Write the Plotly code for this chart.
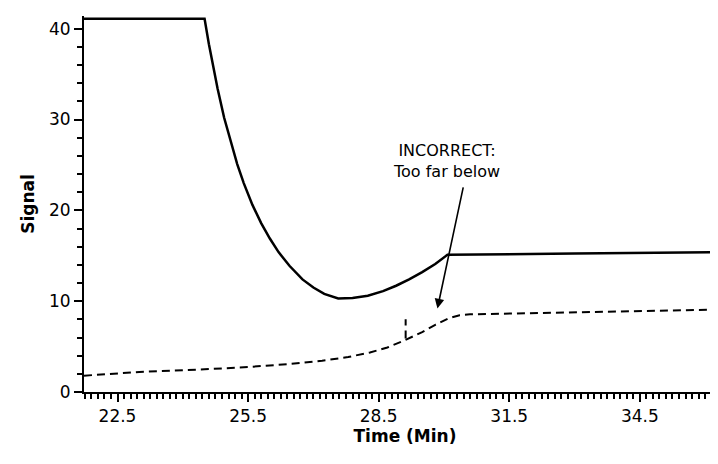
import plotly.graph_objects as go

solid_x = [21.73, 24.5, 24.6, 24.7, 24.8, 24.95, 25.1, 25.25, 25.4, 25.6, 25.8, 26.0, 26.2, 26.45, 26.75, 27.0, 27.25, 27.57, 27.9, 28.25, 28.6, 28.9, 29.2, 29.5, 29.8, 30.08, 33.0, 36.48]
solid_y = [41.1, 41.1, 38.3, 35.8, 33.4, 30.2, 27.5, 25.1, 23.0, 20.6, 18.6, 16.9, 15.4, 13.9, 12.4, 11.5, 10.8, 10.3, 10.35, 10.6, 11.1, 11.7, 12.4, 13.2, 14.1, 15.1, 15.25, 15.4]
dash_x = [21.73, 23.0, 24.5, 25.5, 26.5, 27.2, 27.8, 28.3, 28.7, 29.1, 29.5, 29.8, 30.1, 30.36, 30.6, 32.0, 34.0, 36.48]
dash_y = [1.8, 2.2, 2.5, 2.75, 3.1, 3.45, 3.85, 4.35, 4.9, 5.7, 6.6, 7.4, 8.1, 8.45, 8.55, 8.7, 8.9, 9.1]
mark_x = [29.12, 29.12]
mark_y = [5.9, 8.0]

FONT = "DejaVu Sans"
fig = go.Figure()
fig.add_trace(go.Scatter(x=solid_x, y=solid_y, mode="lines", line=dict(color="black", width=2.5)))
fig.add_trace(go.Scatter(x=dash_x, y=dash_y, mode="lines", line=dict(color="black", width=2, dash="8px,5px")))
fig.add_trace(go.Scatter(x=mark_x, y=mark_y, mode="lines", line=dict(color="black", width=2, dash="8px,5px")))
fig.add_annotation(x=29.85, y=9.2, ax=30.45, ay=22.7, axref="x", ayref="y", xref="x", yref="y",
                   showarrow=True, arrowhead=2, arrowsize=1.2, arrowwidth=1.6, arrowcolor="black", text="")
fig.add_annotation(x=30.05, y=23.0, text="INCORRECT:<br>Too far below", showarrow=False,
                   yanchor="bottom", font=dict(size=16, color="black", family=FONT))

axis_common = dict(showgrid=False, zeroline=False, showline=True, linecolor="black", linewidth=2,
                   ticks="outside", tickcolor="black", tickwidth=2, ticklen=8,
                   tickfont=dict(size=17, color="black", family=FONT))
fig.update_xaxes(range=[21.73, 36.48], tick0=22.5, dtick=3, tickformat=".1f",
                 minor=dict(ticks="outside", dtick=0.15, tick0=22.5, ticklen=5, tickcolor="black", tickwidth=1.5),
                 title=dict(text="<b>Time (Min)</b>", font=dict(size=17, color="black", family=FONT), standoff=4),
                 **axis_common)
fig.update_yaxes(range=[0, 41.4], tick0=0, dtick=10,
                 minor=dict(ticks="outside", dtick=2, ticklen=5, tickcolor="black", tickwidth=1.5),
                 title=dict(text="<b>Signal</b>", font=dict(size=17, color="black", family=FONT), standoff=10),
                 **axis_common)
fig.update_layout(width=718, height=464, showlegend=False, plot_bgcolor="white", paper_bgcolor="white",
                  margin=dict(l=76, r=0, t=8, b=80, autoexpand=False))
fig.write_html("out.html")
